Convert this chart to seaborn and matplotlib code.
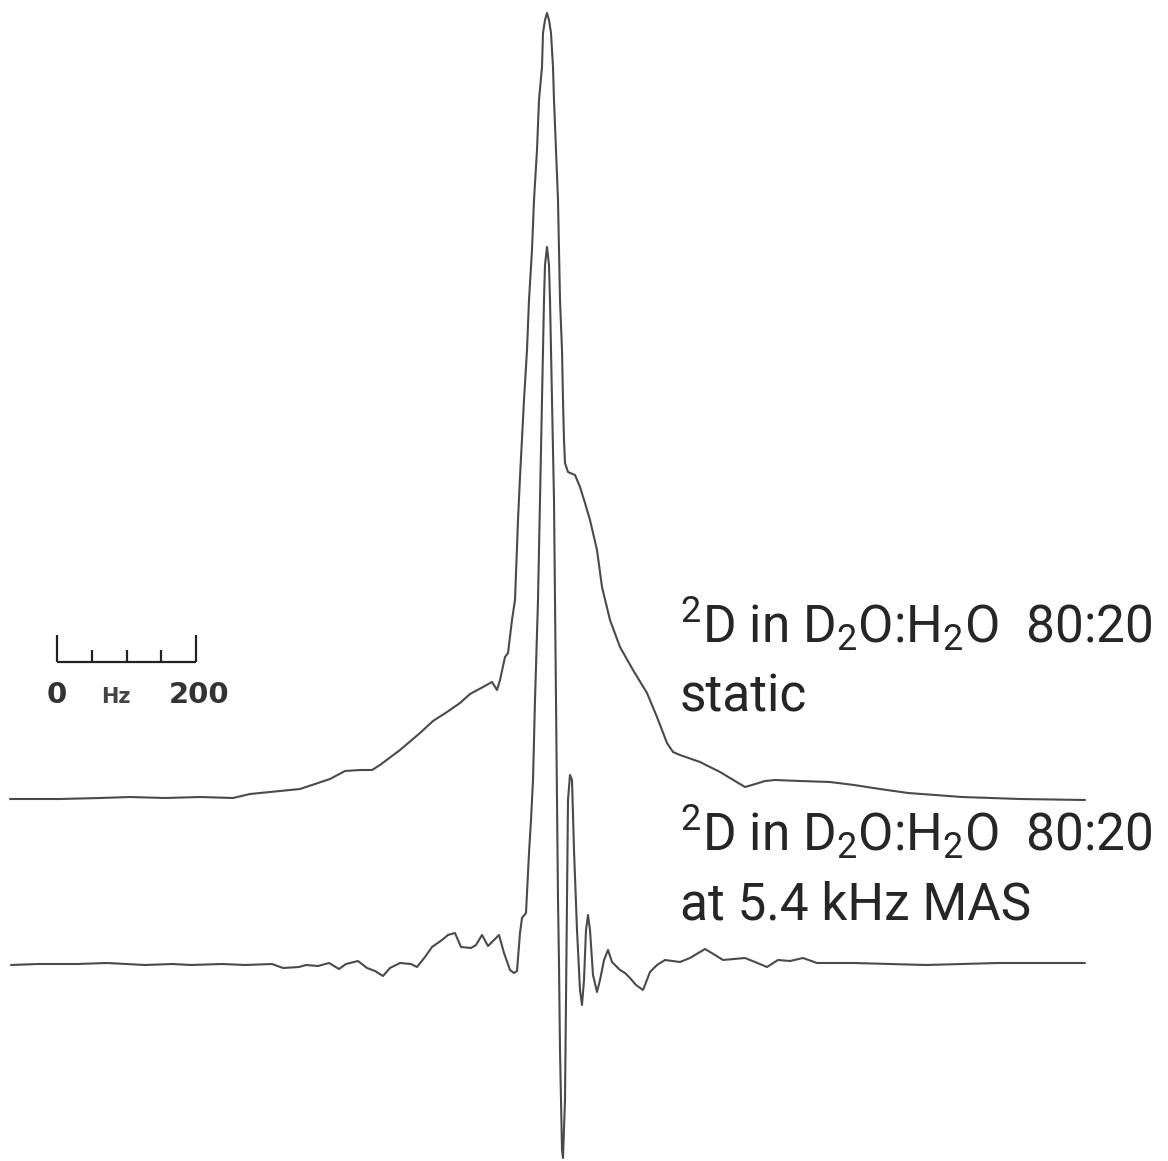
import matplotlib
matplotlib.use("Agg")
import matplotlib.pyplot as plt
import seaborn as sns
import pandas as pd

# spectra: x = spectral point index, y = intensity (a.u.)
static_pts = [10, 60, 100, 130, 165, 200, 233, 250, 280, 300, 330, 345, 360, 372, 380,
              400, 420, 433, 447, 460, 470, 483, 492, 497, 500, 505, 508, 512, 515, 518,
              520, 524, 527, 529, 532, 534, 537, 539, 542, 543, 545, 547, 549, 551, 553,
              554, 556, 558, 559, 560, 562, 563, 564, 565, 568, 575, 580, 585, 590, 597,
              602, 610, 620, 633, 647, 657, 667, 673, 680, 700, 720, 735, 745, 752, 765,
              775, 800, 830, 854, 880, 908, 962, 1020, 1085]
static_int = [-1, -1, 0, 1, 0, 1, 0, 4, 7, 9, 19, 27, 28, 28, 33,
              48, 65, 77, 86, 95, 104, 111, 116, 108, 118, 141, 145, 178, 198, 278,
              321, 398, 448, 498, 548, 598, 648, 698, 731, 765, 778, 785, 778, 765, 731,
              698, 648, 598, 548, 498, 448, 398, 358, 335, 326, 323, 311, 295, 278, 248,
              211, 178, 151, 128, 105, 81, 55, 46, 43, 36, 26, 17, 11, 13, 17,
              18, 17, 16, 13, 9, 5, 1, -1, -2]

mas_pts = [11, 38, 77, 107, 145, 172, 191, 222, 245, 272, 283, 299, 306, 318, 329,
           339, 346, 358, 367, 375, 383, 390, 400, 411, 417, 425, 432, 442, 448, 455,
           461, 471, 476, 482, 488, 494, 499, 504, 510, 514, 517, 520, 522, 526, 529, 531,
           533, 535, 538, 540, 542, 544, 545, 547, 549, 550, 552, 554, 555, 557, 558,
           559, 560, 562, 563, 565, 566, 567, 568, 570, 572, 574, 577, 580, 582, 584,
           586, 588, 590, 593, 597, 600, 604, 608, 612, 615, 620, 625, 630, 636, 643,
           650, 657, 665, 680, 690, 705, 715, 723, 745, 755, 767, 778, 790, 803, 817,
           854, 926, 998, 1085]
mas_int = [-1, 0, 0, 1, -1, 0, -1, 0, -1, 0, -4, -3, -1, -2, 1,
           -5, 0, 3, -4, -7, -12, -4, 1, 0, -3, 7, 17, 24, 29, 31,
           17, 16, 19, 29, 18, 24, 29, 11, -6, -9, -7, 31, 46, 51, 111, 144,
           184, 264, 364, 464, 564, 664, 699, 717, 699, 664, 564, 464, 364, 164, 64,
           0, -86, -186, -194, -136, -36, 64, 164, 189, 184, 114, 34, -26, -41, -16,
           34, 49, 34, -11, -28, -16, 4, 14, 2, -1, -6, -9, -14, -21, -26,
           -8, -1, 4, 2, 6, 15, 9, 4, 6, 2, -3, 4, 3, 6, 1,
           1, -1, 1, 1]

label_static = ["$\\mathregular{^2}$D in D$\\mathregular{_2}$O:H$\\mathregular{_2}$O  80:20", "static"]
label_mas = ["$\\mathregular{^2}$D in D$\\mathregular{_2}$O:H$\\mathregular{_2}$O  80:20", "at 5.4 kHz MAS"]

scale_hz = [0, 50, 100, 150, 200]
pts_per_hz = 0.695

sns.set_theme(style="white")
plt.rcParams['font.family'] = ['Roboto', 'DejaVu Sans']

fig = plt.figure(figsize=(11.68, 11.61), dpi=100)
ax = fig.add_axes([0, 0, 1, 1])

line_color = '#4a4a4a'
static_offset = 363
mas_offset = 197

df_static = pd.DataFrame({'pt': static_pts, 'y': [v + static_offset for v in static_int]})
df_mas = pd.DataFrame({'pt': mas_pts, 'y': [v + mas_offset for v in mas_int]})
sns.lineplot(data=df_static, x='pt', y='y', ax=ax, color=line_color, lw=1.5,
             sort=False, estimator=None)
sns.lineplot(data=df_mas, x='pt', y='y', ax=ax, color=line_color, lw=1.5,
             sort=False, estimator=None)

# scale bar
bar_x0 = 57
bar_y = 499
bar_pts = [bar_x0 + h * pts_per_hz for h in scale_hz]
ax.plot([bar_pts[0], bar_pts[-1]], [bar_y, bar_y], color='#222222', lw=1.6, solid_capstyle='butt')
for i, xp in enumerate(bar_pts):
    h = 27 if i in (0, len(bar_pts) - 1) else 12
    ax.plot([xp, xp], [bar_y, bar_y + h], color='#222222', lw=1.6, solid_capstyle='butt')
ax.text(bar_pts[0], 458, str(scale_hz[0]), ha='center', va='baseline', fontsize=21,
        fontweight='bold', family='DejaVu Sans', color='#333333')
ax.text(116, 458, 'Hz', ha='center', va='baseline', fontsize=15,
        fontweight='bold', family='DejaVu Sans', color='#444444')
ax.text(bar_pts[-1] + 3, 458, str(scale_hz[-1]), ha='center', va='baseline', fontsize=21,
        fontweight='bold', family='DejaVu Sans', color='#333333')

# labels
txt_color = '#262626'
ax.text(680, 518, label_static[0], fontsize=37, color=txt_color, va='baseline')
ax.text(680, 449, label_static[1], fontsize=37, color=txt_color, va='baseline')
ax.text(680, 310, label_mas[0], fontsize=37, color=txt_color, va='baseline')
ax.text(680, 241, label_mas[1], fontsize=37, color=txt_color, va='baseline')

ax.set_xlim(0, 1168)
ax.set_ylim(0, 1161)
ax.axis('off')

fig.savefig('out.png', dpi=100, facecolor='white')
